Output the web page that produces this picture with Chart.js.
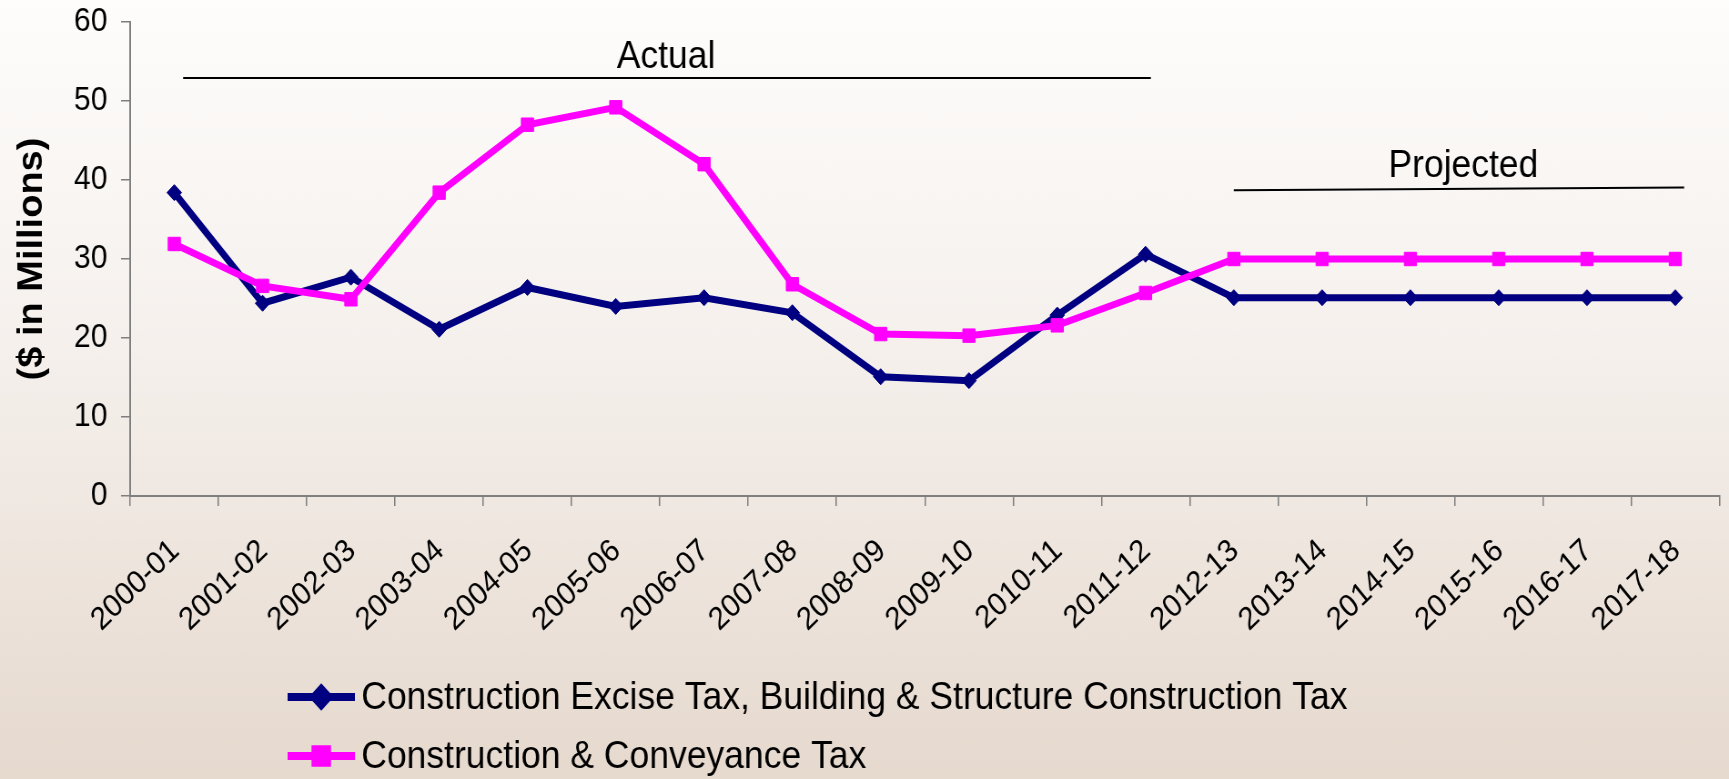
<!DOCTYPE html>
<html lang="en">
<head>
<meta charset="UTF-8">
<title>Construction Tax Revenue</title>
<script src="https://cdn.jsdelivr.net/npm/chart.js"></script>
<style>
  html, body { margin: 0; padding: 0; overflow: hidden; background: #f3eee9; }
  #chart { display: block; }
</style>
</head>
<body>
<!-- drawn 1900 wide, then squeezed to the window like the original slide -->
<canvas id="chart" width="1900" height="779" style="width:1729px;height:779px"></canvas>
<script>
const years = ['2000-01', '2001-02', '2002-03', '2003-04', '2004-05', '2005-06', '2006-07', '2007-08', '2008-09',
               '2009-10', '2010-11', '2011-12', '2012-13', '2013-14', '2014-15', '2015-16', '2016-17', '2017-18'];
const exciseTax =     [38.4, 24.4, 27.7, 21.1, 26.4, 24.0, 25.1, 23.2, 15.1, 14.6, 22.9, 30.6, 25.1, 25.1, 25.1, 25.1, 25.1, 25.1];
const conveyanceTax = [31.9, 26.6, 24.9, 38.4, 47.0, 49.2, 42.0, 26.8, 20.5, 20.3, 21.6, 25.7, 30.0, 30.0, 30.0, 30.0, 30.0, 30.0];
const seriesNames = ['Construction Excise Tax, Building & Structure Construction Tax', 'Construction & Conveyance Tax'];
const yTicks = [0, 10, 20, 30, 40, 50, 60];

// period markers: text, bracket line from/to (category index), line level, text position
const periodText = ['Actual', 'Projected'];
const periodFrom = [0.1, 12.0];
const periodTo = [11.06, 17.1];
const periodLineY = [[52.9, 52.9], [38.7, 39.05]];
const periodTextX = [5.57, 14.6];
const periodTextY = [54.2, 40.4];

const FONT = '"Liberation Sans", Arial, sans-serif';

const bgPlugin = {
    id: 'slideBackground',
    beforeDraw(chart) {
        const { ctx, width, height } = chart;
        const g = ctx.createLinearGradient(0, 0, 0, height);
        g.addColorStop(0, '#fefdfc');
        g.addColorStop(0.45, '#f5f0ec');
        g.addColorStop(1, '#e6d9ce');
        ctx.save();
        ctx.fillStyle = g;
        ctx.fillRect(0, 0, width, height);
        ctx.restore();
    }
};

const periodPlugin = {
    id: 'periods',
    afterDraw(chart) {
        const { ctx } = chart;
        const x = chart.scales.x, y = chart.scales.y;
        ctx.save();
        ctx.strokeStyle = '#000';
        ctx.lineWidth = 2;
        ctx.fillStyle = '#000';
        ctx.font = '39px ' + FONT;
        ctx.textAlign = 'center';
        ctx.textBaseline = 'alphabetic';
        periodText.forEach((t, i) => {
            ctx.beginPath();
            ctx.moveTo(x.getPixelForValue(periodFrom[i]), y.getPixelForValue(periodLineY[i][0]));
            ctx.lineTo(x.getPixelForValue(periodTo[i]), y.getPixelForValue(periodLineY[i][1]));
            ctx.stroke();
            ctx.fillText(t, x.getPixelForValue(periodTextX[i]), y.getPixelForValue(periodTextY[i]));
        });
        ctx.restore();
    }
};

// legend stacked under the axis, left aligned
const legendPlugin = {
    id: 'stackedLegend',
    afterDraw(chart) {
        const { ctx } = chart;
        chart.data.datasets.forEach((ds, i) => {
            const ly = 697 + i * 59;
            ctx.save();
            ctx.strokeStyle = ds.borderColor;
            ctx.lineWidth = 8;
            ctx.beginPath();
            ctx.moveTo(316, ly);
            ctx.lineTo(390, ly);
            ctx.stroke();
            ctx.fillStyle = ds.backgroundColor;
            ctx.strokeStyle = ds.borderColor;
            Chart.helpers.drawPoint(ctx, { pointStyle: ds.pointStyle, radius: ds.pointRadius, borderWidth: 1, rotation: 0 }, 353, ly);
            ctx.fillStyle = '#000';
            ctx.font = '39px ' + FONT;
            ctx.textAlign = 'left';
            ctx.textBaseline = 'middle';
            ctx.fillText(ds.label, 397, ly + 1);
            ctx.restore();
        });
    }
};

new Chart(document.getElementById('chart'), {
    type: 'line',
    data: {
        labels: years,
        datasets: [{
            label: seriesNames[0],
            data: exciseTax,
            borderColor: '#000080',
            backgroundColor: '#000080',
            borderWidth: 7,
            pointStyle: 'rectRot',
            pointRadius: 8,
            pointBorderWidth: 1,
            tension: 0,
            order: 1
        }, {
            label: seriesNames[1],
            data: conveyanceTax,
            borderColor: '#ff00ff',
            backgroundColor: '#ff00ff',
            borderWidth: 7,
            pointStyle: 'rect',
            pointRadius: 9.5,
            pointBorderWidth: 1,
            tension: 0,
            order: 0
        }]
    },
    options: {
        responsive: false,
        animation: false,
        devicePixelRatio: 1,
        layout: { padding: { top: 22, right: 1, bottom: 130, left: 0 } },
        plugins: {
            legend: { display: false },
            tooltip: { enabled: false }
        },
        scales: {
            x: {
                offset: true,
                grid: { offset: true, drawOnChartArea: false, tickLength: 10, color: '#7f7f7f', lineWidth: 1.5 },
                border: { color: '#7f7f7f', width: 2 },
                ticks: {
                    autoSkip: false, minRotation: 42, maxRotation: 42, padding: 26, labelOffset: 1,
                    color: '#000', font: { family: FONT, size: 32 }
                },
                afterFit(scale) {
                    scale.height = 153;
                    scale.paddingLeft = 0;
                    scale.paddingRight = 0;
                }
            },
            y: {
                min: 0,
                max: 60,
                afterBuildTicks(scale) { scale.ticks = yTicks.map(v => ({ value: v })); },
                grid: { drawOnChartArea: false, tickLength: 10, color: '#7f7f7f', lineWidth: 1.5 },
                border: { color: '#7f7f7f', width: 2 },
                ticks: { padding: 15, color: '#000', font: { family: FONT, size: 33 } },
                title: {
                    display: true,
                    text: '($ in Millions)',
                    color: '#000',
                    font: { family: FONT, size: 38, weight: 'bold' },
                    padding: { top: 13, bottom: 0 }
                },
                afterFit(scale) {
                    scale.width = 143;
                    scale.paddingTop = 0;
                    scale.paddingBottom = 0;
                }
            }
        }
    },
    plugins: [bgPlugin, periodPlugin, legendPlugin]
});
</script>
</body>
</html>
